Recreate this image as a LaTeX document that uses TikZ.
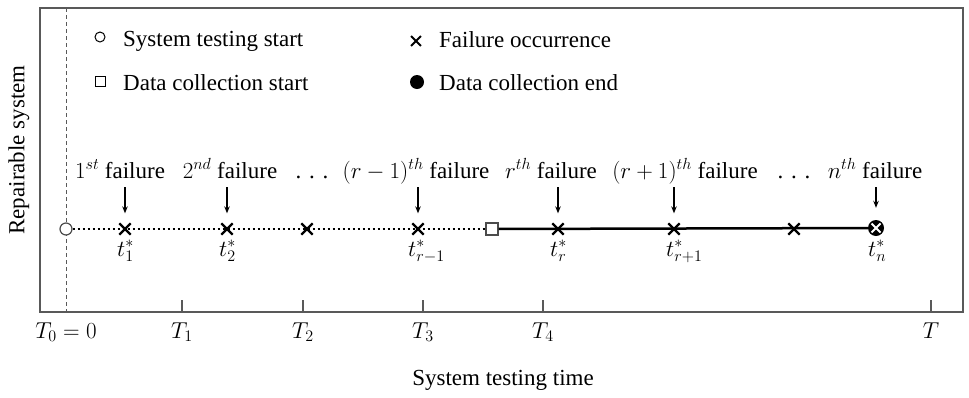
\RequirePackage{fix-cm}
\documentclass[tikz,border=0pt]{standalone}
\usepackage{fontspec}
\setmainfont{Liberation Serif}
\usetikzlibrary{shapes.misc,arrows.meta}
\begin{document}
\begin{tikzpicture}[x=1pt,y=-1pt,
  frame/.style={draw=black!65, line width=1.2pt},
  lbl/.style={font=\fontsize{23}{27}\selectfont, inner sep=0pt},
  xm/.style={cross out, draw=black, line width=2.3pt, minimum size=9pt, inner sep=0pt},
  arr/.style={-{Stealth[length=7pt,width=5.5pt]}, line width=1.2pt, shorten >=10pt},
  tickmark/.style={draw=black!65, line width=1.1pt},
]
\useasboundingbox (0,0) rectangle (969,397);
% frame and axis
\draw[frame] (40,312) -- (40,8) -- (963,8) -- (963,312) -- cycle;
\draw[black!65, line width=1pt, dash pattern=on 4pt off 3pt] (66,8) -- (66,312);
\foreach \x in {182,303,423,543,931} \draw[tickmark] (\x,300) -- (\x,312);
% tick labels
\node[lbl, anchor=base] (T0) at (66,338) {$T_0=0$};
\node[lbl, anchor=base] (T1) at (182,338) {$T_1$};
\node[lbl, anchor=base] (T2) at (303,338) {$T_2$};
\node[lbl, anchor=base] (T3) at (423,338) {$T_3$};
\node[lbl, anchor=base] (T4) at (543,338) {$T_4$};
\node[lbl, anchor=base] (TT) at (931,338) {$T$};
\node[lbl, anchor=base] (xlab) at (503,385) {System testing time};
\node[lbl, rotate=90] (ylab) at (19,150) {Repairable system};
% legend
\node[circle, draw, line width=1pt, minimum size=10pt, inner sep=0pt] (lgc) at (100,37) {};
\node[lbl, anchor=base west] (lgct) at (123,46) {System testing start};
\node[rectangle, draw, line width=1pt, minimum size=10pt, inner sep=0pt] (lgs) at (100,81) {};
\node[lbl, anchor=base west] (lgst) at (123,90) {Data collection start};
\node[xm, line width=1.8pt, minimum size=8pt] (lgx) at (416,41) {};
\node[lbl, anchor=base west] (lgxt) at (439,47) {Failure occurrence};
\node[circle, fill, minimum size=14pt, inner sep=0pt] (lgf) at (417,82) {};
\node[lbl, anchor=base west] (lgft) at (439,90) {Data collection end};
% timeline
\node[circle, draw=black!70, fill=white, line width=1.2pt, minimum size=12pt, inner sep=0pt] (start) at (66,229) {};
\node[rectangle, draw=black!70, fill=white, line width=1.2pt, minimum size=12pt, inner sep=0pt] (dcs) at (492,229) {};
\node[circle, fill=black, minimum size=16pt, inner sep=0pt] (dce) at (876,228) {};
\node[cross out, draw=white, line width=2pt, minimum size=7pt, inner sep=0pt] (dcex) at (dce) {};
\draw[line width=2.5pt, dash pattern=on 2.5pt off 2.5pt] (start) -- (dcs);
\draw[line width=2.5pt] (dcs) -- (dce);
% failures
\node[xm] (c1) at (125,229) {};
\node[xm] (c2) at (227,229) {};
\node[xm] (c3) at (307,229) {};
\node[xm] (c4) at (418,229) {};
\node[xm] (c5) at (558,229) {};
\node[xm] (c6) at (674,229) {};
\node[xm] (c7) at (794,229) {};
% failure labels
\node[lbl, anchor=base] (l1) at (120,178) {$1^{st}$ failure};
\node[lbl, anchor=base] (l2) at (230,178) {$2^{nd}$ failure};
\node[lbl, anchor=base] (d1) at (312,178) {. . .};
\node[lbl, anchor=base] (l4) at (416,178) {$(r-1)^{th}$ failure};
\node[lbl, anchor=base] (l5) at (551,178) {$r^{th}$ failure};
\node[lbl, anchor=base] (l6) at (685,178) {$(r+1)^{th}$ failure};
\node[lbl, anchor=base] (d2) at (794,178) {. . .};
\node[lbl, anchor=base] (l8) at (875,178) {$n^{th}$ failure};
% arrows
\coordinate (a1) at (125,187);
\coordinate (a2) at (227,187);
\coordinate (a4) at (418,187);
\coordinate (a5) at (558,187);
\coordinate (a6) at (674,187);
\coordinate (a8) at (876,187);
\draw[arr] (a1) -- (c1);
\draw[arr] (a2) -- (c2);
\draw[arr] (a4) -- (c4);
\draw[arr] (a5) -- (c5);
\draw[arr] (a6) -- (c6);
\draw[arr, shorten >=12pt] (a8) -- (dce);
% time labels
\node[lbl, anchor=base west] (t1) at (117,256) {$t_1^*$};
\node[lbl, anchor=base west] (t2) at (219,256) {$t_2^*$};
\node[lbl, anchor=base west] (t4) at (408,256) {$t_{r-1}^*$};
\node[lbl, anchor=base west] (t5) at (550,256) {$t_r^*$};
\node[lbl, anchor=base west] (t6) at (666,256) {$t_{r+1}^*$};
\node[lbl, anchor=base west] (t8) at (868,256) {$t_n^*$};
\end{tikzpicture}
\end{document}
